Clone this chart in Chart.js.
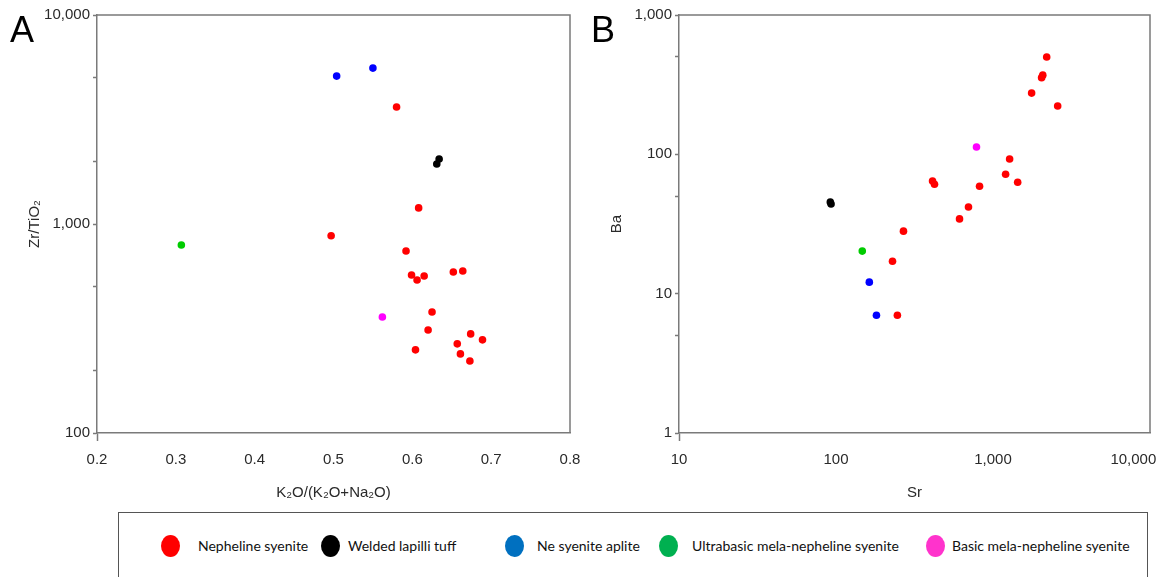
<!DOCTYPE html>
<html>
<head>
<meta charset="utf-8">
<script src="https://cdn.jsdelivr.net/npm/chart.js@4.4.1/dist/chart.umd.min.js"></script>
<style>
  html, body { margin:0; padding:0; background:#fff; }
  body { width:1161px; height:577px; overflow:hidden; position:relative; font-family:"Liberation Sans", Arial, sans-serif; }
  #cA { position:absolute; left:0; top:0; }
  #cB { position:absolute; left:580px; top:0; }
  .panel { position:absolute; font-size:36px; line-height:36px; color:#000; font-family:"Liberation Sans", Arial, sans-serif; }
  #legend { position:absolute; left:118px; top:512px; width:1030px; height:90px; border:1.5px solid #555; box-sizing:border-box; }
  .dot { position:absolute; width:19px; height:22px; border-radius:50%; top:22px; }
  .lab { position:absolute; top:24px; font-family:Lato, "Open Sans", sans-serif; font-size:14px; line-height:18px; color:#111; white-space:nowrap; }
</style>
</head>
<body>
<canvas id="cA" width="600" height="505"></canvas>
<canvas id="cB" width="581" height="505"></canvas>
<div class="panel" style="left:10px; top:12px;">A</div>
<div class="panel" style="left:591px; top:12px;">B</div>
<div id="legend"></div>
<script>
// ---------- DATA ----------
const seriesNames = ["Nepheline syenite", "Welded lapilli tuff", "Ne syenite aplite", "Ultrabasic mela-nepheline syenite", "Basic mela-nepheline syenite"];

// Panel A: K2O/(K2O+Na2O) vs Zr/TiO2
const nephA_x = [0.580, 0.608, 0.497, 0.592, 0.599, 0.606, 0.615, 0.652, 0.664, 0.625, 0.620, 0.674, 0.689, 0.657, 0.604, 0.661, 0.673];
const nephA_y = [3630, 1194, 878, 743, 570, 540, 564, 589, 596, 379, 311, 298, 279, 267, 250, 239, 221];
const weldA_x = [0.631, 0.634];
const weldA_y = [1936, 2046];
const aplA_x = [0.504, 0.550];
const aplA_y = [5100, 5570];
const ultraA_x = [0.307];
const ultraA_y = [794];
const basicA_x = [0.562];
const basicA_y = [359];

// Panel B: Sr vs Ba
const nephB_sr = [2198, 2075, 2040, 1762, 2582, 1276, 1203, 1436, 412, 424, 821, 698, 612, 269, 229, 246];
const nephB_ba = [499, 370, 355, 275, 222, 92.5, 72, 63, 64.3, 61, 59, 41.9, 34.4, 28.1, 17.1, 7.0];
const weldB_sr = [92, 93];
const weldB_ba = [45.5, 44];
const aplB_sr = [163, 181];
const aplB_ba = [12.1, 7.0];
const ultraB_sr = [147];
const ultraB_ba = [20.2];
const basicB_sr = [785];
const basicB_ba = [113];

// Ticks
const xTicksA = [0.2, 0.3, 0.4, 0.5, 0.6, 0.7, 0.8];
const yTicksA = [100, 200, 500, 1000, 2000, 5000, 10000];
const yLabelsA = [100, 1000, 10000];
const xTicksB = [10, 50, 100, 500, 1000, 5000, 10000];
const xLabelsB = [10, 100, 1000, 10000];
const yTicksB = [1, 5, 10, 50, 100, 500, 1000];
const yLabelsB = [1, 10, 100, 1000];

// ---------- STYLE / LAYOUT ----------
const plotColors = ["#ff0000", "#000000", "#0000ff", "#00cc00", "#ff00ff"];
const legendColors = ["#ff0000", "#000000", "#0070c0", "#00b050", "#ff33cc"];
const legendDotLeft = [42, 202, 386, 540, 807];     // px inside legend box
const legendTextLeft = [79, 229, 418, 573, 833];
const axisColor = "#7a7a7a";
const textColor = "#2a2a2a";
const tickFont = { family: "'Liberation Sans', Arial, sans-serif", size: 15 };
const titleFont = { family: "'Liberation Sans', Arial, sans-serif", size: 15 };

function pts(xs, ys) { return xs.map((x, i) => ({ x: x, y: ys[i] })); }
function ds(i, xs, ys) {
  return { label: seriesNames[i], data: pts(xs, ys), backgroundColor: plotColors[i], borderWidth: 0, pointRadius: 3.8, pointHoverRadius: 3.8 };
}
const fmt = v => Number(v).toLocaleString('en-US');

const framePlugin = {
  id: 'frame',
  afterDraw(chart) {
    const { ctx, chartArea: { left, top, right, bottom } } = chart;
    ctx.save();
    ctx.strokeStyle = axisColor; ctx.lineWidth = 1.5;
    ctx.beginPath(); ctx.moveTo(left, top); ctx.lineTo(right, top); ctx.lineTo(right, bottom); ctx.stroke();
    ctx.restore();
  }
};

function axisX(opts) {
  return Object.assign({
    position: 'bottom',
    afterBuildTicks: s => { s.ticks = opts.ticks.map(v => ({ value: v })); },
    afterFit: s => { s.height = 72; s.paddingLeft = 0; s.paddingRight = 0; },
    ticks: { autoSkip: false, maxRotation: 0, minRotation: 0, padding: 10, font: tickFont, color: textColor, callback: opts.cb },
    grid: { drawOnChartArea: false, drawTicks: true, tickLength: 8, tickWidth: 1.5,
            tickColor: c => (c.index === 0 ? axisColor : 'rgba(0,0,0,0)') },
    border: { color: axisColor, width: 1.5 },
    title: { display: true, text: opts.title, font: titleFont, color: textColor, padding: { top: 0, bottom: 3 } }
  }, opts.base);
}
function axisY(opts) {
  return Object.assign({
    position: 'left',
    afterBuildTicks: s => { s.ticks = opts.ticks.map(v => ({ value: v })); },
    afterFit: s => { s.width = opts.width; s.paddingTop = 0; s.paddingBottom = 0; },
    ticks: { autoSkip: false, padding: 3, font: tickFont, color: textColor, callback: opts.cb },
    grid: { drawOnChartArea: false, drawTicks: true, tickLength: 4, tickWidth: 1.5, tickColor: axisColor },
    border: { color: axisColor, width: 1.5 },
    title: { display: true, text: opts.title, font: titleFont, color: textColor, padding: { top: opts.tpad, bottom: 0 } }
  }, opts.base);
}

function common(padRight) {
  return {
    responsive: false, animation: false, devicePixelRatio: 1,
    layout: { padding: { top: 15, right: padRight, left: 0, bottom: 0 } },
    plugins: { legend: { display: false }, tooltip: { enabled: false } },
    events: []
  };
}

new Chart(document.getElementById('cA'), {
  type: 'scatter',
  data: { datasets: [
    ds(0, nephA_x, nephA_y), ds(1, weldA_x, weldA_y), ds(2, aplA_x, aplA_y), ds(3, ultraA_x, ultraA_y), ds(4, basicA_x, basicA_y)
  ] },
  options: Object.assign(common(30), {
    scales: {
      x: axisX({ base: { type: 'linear', min: 0.2, max: 0.8 }, ticks: xTicksA, cb: v => Number(v).toFixed(1), title: 'K₂O/(K₂O+Na₂O)' }),
      y: axisY({ base: { type: 'logarithmic', min: 100, max: 10000 }, ticks: yTicksA, width: 97, tpad: 26,
                 cb: v => (yLabelsA.includes(v) ? fmt(v) : ''), title: 'Zr/TiO₂' })
    }
  }),
  plugins: [framePlugin]
});

new Chart(document.getElementById('cB'), {
  type: 'scatter',
  data: { datasets: [
    ds(0, nephB_sr, nephB_ba), ds(1, weldB_sr, weldB_ba), ds(2, aplB_sr, aplB_ba), ds(3, ultraB_sr, ultraB_ba), ds(4, basicB_sr, basicB_ba)
  ] },
  options: Object.assign(common(11), {
    scales: {
      x: axisX({ base: { type: 'logarithmic', min: 10, max: 10000 }, ticks: xTicksB,
                 cb: v => (xLabelsB.includes(v) ? (v === 10000 ? fmt(v) + '        ' : fmt(v)) : ''), title: 'Sr' }),
      y: axisY({ base: { type: 'logarithmic', min: 1, max: 1000 }, ticks: yTicksB, width: 99, tpad: 28,
                 cb: v => (yLabelsB.includes(v) ? fmt(v) : ''), title: 'Ba' })
    }
  }),
  plugins: [framePlugin]
});

// Legend (HTML)
const leg = document.getElementById('legend');
seriesNames.forEach((name, i) => {
  const d = document.createElement('div'); d.className = 'dot';
  d.style.background = legendColors[i]; d.style.left = legendDotLeft[i] + 'px';
  const t = document.createElement('span'); t.className = 'lab'; t.textContent = name;
  t.style.left = legendTextLeft[i] + 'px';
  leg.appendChild(d); leg.appendChild(t);
});
</script>
</body>
</html>
